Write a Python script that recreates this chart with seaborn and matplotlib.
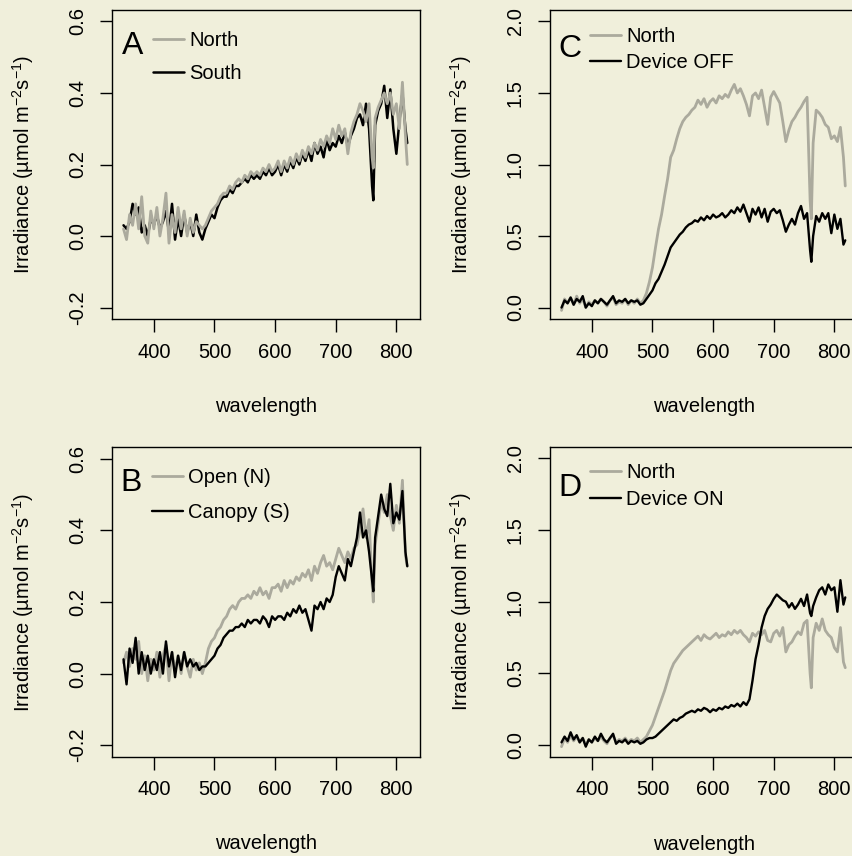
import matplotlib
matplotlib.use("Agg")
import matplotlib.pyplot as plt
import numpy as np
import pandas as pd
import seaborn as sns

# ---------------- data ----------------
wavelength = list(range(350, 761, 5)) + [762] + list(range(765, 816, 5)) + [818]

a_north = [0.02, -0.01, 0.06, 0.03, 0.09, 0.02, 0.11, 0.00, -0.02, 0.07,
           0.02, 0.08, 0.00, 0.05, 0.12, -0.02, 0.06, 0.01, 0.08, 0.02,
           0.07, 0.00, 0.05, 0.01, 0.04, 0.03, 0.02, 0.03, 0.05, 0.07,
           0.08, 0.09, 0.11, 0.12, 0.12, 0.14, 0.13, 0.15, 0.16, 0.15,
           0.17, 0.16, 0.18, 0.17, 0.18, 0.17, 0.19, 0.18, 0.20, 0.18,
           0.19, 0.21, 0.18, 0.21, 0.19, 0.22, 0.20, 0.23, 0.21, 0.24,
           0.22, 0.25, 0.23, 0.26, 0.24, 0.27, 0.25, 0.28, 0.26, 0.30,
           0.27, 0.31, 0.28, 0.30, 0.23, 0.29, 0.32, 0.34, 0.37, 0.35,
           0.32, 0.37, 0.22, 0.19, 0.33, 0.36, 0.38, 0.40, 0.37, 0.40, 0.34, 0.37, 0.30, 0.43, 0.28, 0.20]
a_south = [0.03, 0.02, 0.04, 0.09, 0.06, 0.08, 0.01, 0.03, 0.00, 0.05,
           0.03, 0.06, 0.02, 0.04, 0.07, 0.01, 0.09, -0.01, 0.05, 0.00,
           0.06, 0.01, 0.04, 0.00, 0.06, 0.01, -0.01, 0.02, 0.04, 0.06,
           0.05, 0.08, 0.10, 0.11, 0.11, 0.13, 0.12, 0.14, 0.14, 0.15,
           0.16, 0.15, 0.17, 0.16, 0.17, 0.16, 0.18, 0.17, 0.19, 0.17,
           0.18, 0.20, 0.17, 0.20, 0.18, 0.21, 0.19, 0.22, 0.20, 0.23,
           0.21, 0.24, 0.21, 0.26, 0.23, 0.25, 0.22, 0.27, 0.24, 0.26,
           0.25, 0.28, 0.26, 0.29, 0.25, 0.28, 0.30, 0.33, 0.34, 0.31,
           0.37, 0.30, 0.14, 0.10, 0.31, 0.35, 0.37, 0.42, 0.33, 0.41, 0.30, 0.23, 0.32, 0.40, 0.30, 0.26]

b_open = [0.03, 0.06, 0.02, 0.07, 0.04, 0.09, 0.00, 0.05, -0.02, 0.04,
          0.01, 0.06, -0.01, 0.05, 0.08, -0.02, 0.06, 0.01, 0.05, 0.00,
          0.06, 0.02, -0.01, 0.04, 0.01, 0.03, 0.00, 0.03, 0.07, 0.09,
          0.10, 0.12, 0.13, 0.15, 0.16, 0.18, 0.19, 0.18, 0.20, 0.21,
          0.21, 0.22, 0.21, 0.23, 0.22, 0.24, 0.22, 0.23, 0.21, 0.24,
          0.24, 0.25, 0.23, 0.26, 0.24, 0.26, 0.25, 0.27, 0.26, 0.28,
          0.27, 0.29, 0.26, 0.30, 0.28, 0.31, 0.33, 0.30, 0.31, 0.29,
          0.32, 0.35, 0.33, 0.31, 0.34, 0.32, 0.35, 0.36, 0.40, 0.46,
          0.38, 0.43, 0.25, 0.20, 0.36, 0.42, 0.48, 0.45, 0.50, 0.44, 0.40, 0.47, 0.42, 0.54, 0.33, 0.30]
b_canopy = [0.04, -0.03, 0.07, 0.03, 0.10, 0.00, 0.06, 0.01, 0.05, 0.00,
            0.04, 0.01, 0.06, 0.00, 0.09, 0.02, 0.06, -0.01, 0.05, 0.01,
            0.06, 0.02, 0.04, 0.02, 0.03, 0.01, 0.02, 0.02, 0.03, 0.04,
            0.05, 0.07, 0.08, 0.10, 0.11, 0.12, 0.12, 0.13, 0.13, 0.14,
            0.13, 0.15, 0.14, 0.15, 0.15, 0.14, 0.16, 0.15, 0.13, 0.16,
            0.15, 0.16, 0.16, 0.15, 0.17, 0.16, 0.18, 0.17, 0.19, 0.17,
            0.18, 0.15, 0.12, 0.19, 0.18, 0.20, 0.18, 0.21, 0.20, 0.22,
            0.27, 0.30, 0.28, 0.26, 0.32, 0.30, 0.34, 0.38, 0.45, 0.38,
            0.40, 0.34, 0.26, 0.23, 0.38, 0.44, 0.50, 0.46, 0.44, 0.53, 0.42, 0.45, 0.43, 0.51, 0.34, 0.30]

c_north = [-0.02, 0.06, 0.03, 0.07, 0.02, 0.08, 0.03, 0.06, 0.00, 0.04,
           0.02, 0.05, 0.03, 0.06, 0.04, 0.01, 0.05, 0.07, 0.02, 0.04,
           0.03, 0.06, 0.02, 0.05, 0.03, 0.06, 0.03, 0.05, 0.10, 0.18,
           0.28, 0.42, 0.55, 0.65, 0.78, 0.90, 1.05, 1.10, 1.18, 1.25,
           1.30, 1.33, 1.35, 1.38, 1.40, 1.45, 1.42, 1.46, 1.40, 1.44,
           1.46, 1.43, 1.48, 1.46, 1.49, 1.47, 1.52, 1.56, 1.50, 1.53,
           1.48, 1.42, 1.34, 1.48, 1.50, 1.46, 1.52, 1.40, 1.28, 1.47,
           1.51, 1.47, 1.43, 1.30, 1.16, 1.24, 1.30, 1.33, 1.37, 1.40,
           1.44, 1.47, 0.75, 0.62, 1.15, 1.38, 1.36, 1.33, 1.28, 1.26, 1.18, 1.20, 1.16, 1.26, 1.05, 0.85]
c_off = [0.00, 0.05, 0.03, 0.07, 0.02, 0.06, 0.04, 0.08, 0.00, 0.03,
         0.01, 0.05, 0.03, 0.06, 0.04, 0.02, 0.05, 0.08, 0.03, 0.05,
         0.04, 0.06, 0.03, 0.05, 0.04, 0.05, 0.02, 0.03, 0.06, 0.09,
         0.12, 0.17, 0.20, 0.25, 0.30, 0.36, 0.42, 0.45, 0.48, 0.51,
         0.53, 0.56, 0.58, 0.59, 0.61, 0.60, 0.63, 0.61, 0.64, 0.62,
         0.65, 0.63, 0.64, 0.66, 0.63, 0.65, 0.68, 0.66, 0.70, 0.67,
         0.72, 0.66, 0.60, 0.69, 0.65, 0.70, 0.63, 0.69, 0.60, 0.67,
         0.69, 0.66, 0.68, 0.61, 0.53, 0.58, 0.62, 0.58, 0.66, 0.71,
         0.62, 0.66, 0.40, 0.32, 0.50, 0.64, 0.60, 0.66, 0.62, 0.66, 0.52, 0.65, 0.55, 0.62, 0.44, 0.47]

d_north = [-0.01, 0.05, 0.02, 0.07, 0.03, 0.06, 0.02, 0.05, 0.00, 0.04,
           0.02, 0.05, 0.03, 0.06, 0.03, 0.01, 0.05, 0.07, 0.02, 0.04,
           0.03, 0.05, 0.02, 0.04, 0.03, 0.05, 0.02, 0.04, 0.06, 0.10,
           0.14, 0.20, 0.26, 0.32, 0.38, 0.45, 0.52, 0.57, 0.60, 0.63,
           0.66, 0.68, 0.70, 0.72, 0.74, 0.76, 0.73, 0.77, 0.75, 0.74,
           0.76, 0.78, 0.75, 0.77, 0.76, 0.79, 0.77, 0.80, 0.78, 0.80,
           0.77, 0.75, 0.72, 0.78, 0.76, 0.79, 0.77, 0.80, 0.73, 0.72,
           0.78, 0.80, 0.76, 0.82, 0.65, 0.70, 0.72, 0.76, 0.79, 0.77,
           0.85, 0.87, 0.50, 0.40, 0.75, 0.85, 0.80, 0.88, 0.80, 0.77, 0.75, 0.68, 0.65, 0.82, 0.58, 0.54]
d_on = [0.02, 0.06, 0.03, 0.09, 0.04, 0.07, 0.02, 0.05, -0.01, 0.04,
        0.02, 0.06, 0.03, 0.08, 0.04, 0.02, 0.05, 0.08, 0.01, 0.03,
        0.02, 0.04, 0.01, 0.03, 0.02, 0.03, 0.01, 0.02, 0.04, 0.05,
        0.05, 0.06, 0.08, 0.10, 0.12, 0.14, 0.16, 0.18, 0.17, 0.19,
        0.20, 0.22, 0.23, 0.24, 0.23, 0.25, 0.24, 0.26, 0.25, 0.23,
        0.25, 0.24, 0.26, 0.25, 0.27, 0.26, 0.28, 0.27, 0.29, 0.27,
        0.30, 0.28, 0.32, 0.45, 0.60, 0.70, 0.82, 0.90, 0.95, 0.98,
        1.02, 1.05, 1.03, 1.01, 1.00, 0.96, 0.99, 0.95, 0.98, 1.02,
        0.97, 1.05, 0.92, 0.90, 0.97, 1.03, 1.08, 1.10, 1.05, 1.12, 1.08, 1.10, 0.93, 1.15, 0.98, 1.03]

x_ticks = [400, 500, 600, 700, 800]
y_ticks_small = [-0.2, 0.0, 0.2, 0.4, 0.6]
y_ticks_large = [0.0, 0.5, 1.0, 1.5, 2.0]

panels = [
    # letter, grey series, black series, grey label, black label, yticks, grey on top
    ("A", a_north, a_south, "North", "South", y_ticks_small, True),
    ("C", c_north, c_off, "North", "Device OFF", y_ticks_large, False),
    ("B", b_open, b_canopy, "Open (N)", "Canopy (S)", y_ticks_small, False),
    ("D", d_north, d_on, "North", "Device ON", y_ticks_large, False),
]

# ---------------- style ----------------
BG = "#F0EFDB"
GREY = "#ABAA9D"
sns.set_theme(style="ticks", rc={
    "figure.facecolor": BG, "axes.facecolor": BG, "savefig.facecolor": BG,
    "axes.edgecolor": "black", "axes.linewidth": 1.0,
    "xtick.color": "black", "ytick.color": "black",
    "xtick.major.size": 9, "ytick.major.size": 9,
    "xtick.major.width": 1.0, "ytick.major.width": 1.0,
    "text.color": "black", "axes.labelcolor": "black",
})
plt.rcParams["font.family"] = ["Liberation Sans", "DejaVu Sans"]
plt.rcParams["mathtext.fontset"] = "custom"
plt.rcParams["mathtext.rm"] = "Liberation Sans"
plt.rcParams["mathtext.it"] = "Liberation Sans:italic"
plt.rcParams["mathtext.bf"] = "Liberation Sans:bold"
plt.rcParams["mathtext.sf"] = "Liberation Sans"
plt.rcParams["axes.unicode_minus"] = False

FS = 14.5

fig = plt.figure(figsize=(8.53, 8.56), dpi=100)
W, H = 853.0, 856.0
boxes = {
    "A": (112, 10, 308, 309),
    "C": (550, 10, 308, 309),
    "B": (112, 447.3, 308, 309.4),
    "D": (550, 446.7, 308, 310),
}
legend_cfg = {
    "A": dict(anchor=(0.133, 0.933), spacing=0.70, letter=(0.068, 0.885)),
    "C": dict(anchor=(0.130, 0.946), spacing=0.36, letter=(0.065, 0.875)),
    "B": dict(anchor=(0.130, 0.932), spacing=0.80, letter=(0.062, 0.883)),
    "D": dict(anchor=(0.130, 0.946), spacing=0.36, letter=(0.065, 0.868)),
}

for letter, grey_vals, black_vals, glab, blab, yticks, grey_top in panels:
    x0, y0, w, h = boxes[letter]
    ax = fig.add_axes([x0 / W, 1 - (y0 + h) / H, w / W, h / H])
    df = pd.DataFrame({"wavelength": wavelength, "grey": grey_vals, "black": black_vals})
    if grey_top:
        sns.lineplot(data=df, x="wavelength", y="black", color="black", lw=1.8, ax=ax, zorder=2)
        sns.lineplot(data=df, x="wavelength", y="grey", color=GREY, lw=2.0, ax=ax, zorder=3)
        hg, hb = ax.get_lines()[1], ax.get_lines()[0]
    else:
        sns.lineplot(data=df, x="wavelength", y="grey", color=GREY, lw=2.0, ax=ax, zorder=2)
        sns.lineplot(data=df, x="wavelength", y="black", color="black", lw=1.7, ax=ax, zorder=3)
        hg, hb = ax.get_lines()[0], ax.get_lines()[1]

    span = yticks[-1] - yticks[0]
    ax.set_ylim(yticks[0] - 0.04 * span, yticks[-1] + 0.04 * span)
    ax.set_xlim(331, 839)
    ax.set_xticks(x_ticks)
    ax.set_xticklabels([str(t) for t in x_ticks], fontsize=FS)
    ax.set_yticks(yticks)
    ax.set_yticklabels([f"{t:.1f}" for t in yticks], fontsize=FS, rotation=90, va="center")
    ax.tick_params(axis="x", direction="out", pad=8, top=False)
    ax.tick_params(axis="y", direction="out", pad=9, right=False)
    for s in ax.spines.values():
        s.set_visible(True)
        s.set_linewidth(1.0)

    ax.set_xlabel("wavelength", fontsize=FS)
    ax.xaxis.set_label_coords(0.5, -0.282)
    ax.xaxis.label.set_va("center")
    ax.set_ylabel(r"Irradiance (µmol m$^{-2}$s$^{-1}$)", fontsize=FS)
    ax.yaxis.set_label_coords(-0.29, 0.5)
    ax.yaxis.label.set_va("center")

    cfg = legend_cfg[letter]
    ax.text(cfg["letter"][0], cfg["letter"][1], letter, transform=ax.transAxes,
            fontsize=23, ha="center", va="center")
    ax.legend([hg, hb], [glab, blab], loc="upper left", bbox_to_anchor=cfg["anchor"],
              frameon=False, fontsize=FS, handlelength=1.55, handletextpad=0.25,
              borderpad=0, borderaxespad=0, labelspacing=cfg["spacing"])

fig.savefig("out.png", dpi=100, facecolor=BG)
